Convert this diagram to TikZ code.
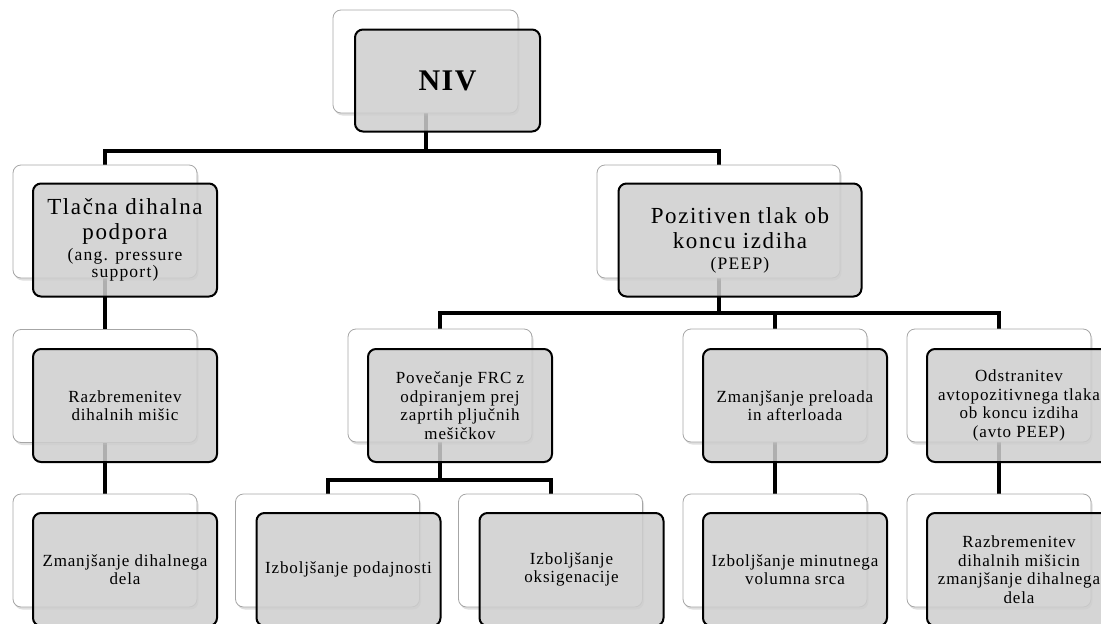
\documentclass[tikz,border=0pt]{standalone}
\usepackage{fontspec}
\setmainfont{Liberation Serif}[LetterSpace=5]
\usepackage{xcolor}
\usepackage{tikz}
\usetikzlibrary{shadows}
\pgfdeclarelayer{background}
\pgfsetlayers{background,main}
\definecolor{boxgray}{RGB}{206,206,206}
\newcommand{\bigtxt}{\fontsize{23}{25}\selectfont\addfontfeature{LetterSpace=7}}
\newcommand{\smalltxt}{\fontsize{17.5}{17}\selectfont}
\newcommand{\midtxt}{\fontsize{17}{18.5}\selectfont}

\begin{document}
\begin{tikzpicture}[x=1pt, y=-1pt,
				back/.style={rectangle, rounded corners=8pt, draw=black!35, line width=0.8pt,
					fill=white, minimum width=184pt, minimum height=113pt,
					drop shadow={opacity=0.25, shadow xshift=1.5pt, shadow yshift=-2.5pt}},
				front/.style={rectangle, rounded corners=8pt, draw=black, line width=2pt,
					fill=boxgray, fill opacity=0.85, text opacity=1, draw opacity=1,
					minimum width=184pt, minimum height=113pt, align=center, inner sep=2pt,
					font=\midtxt},
				link/.style={line width=4pt, black}]
				\clip (0,0) rectangle (1101,624);
				% top level
				\node at (425.5,61.5) (nivB) [back, minimum width=185pt, minimum height=103pt] {};
				\node at (447.5,80.5) (niv) [front, minimum width=185pt, minimum height=102pt,
					font=\fontsize{30}{34}\selectfont\bfseries] {NIV};
				% second level
				\node at (105,221.5) (tlakB) [back] {};
				\node at (125,240) (tlak) [front, font=\bigtxt] {Tlačna dihalna\\ podpora\\[-4pt] \smalltxt (ang. pressure\\[-8pt] \smalltxt support)};
				\node at (718.5,221.5) (peepB) [back, minimum width=243pt] {};
				\node at (740,240) (peep) [front, minimum width=243pt, font=\bigtxt] {Pozitiven tlak ob\\ koncu izdiha\\[-4pt] \smalltxt (PEEP)};
				% third level
				\node at (105,386) (razB) [back] {};
				\node at (125,405.5) (raz) [front] {Razbremenitev\\ dihalnih mišic};
				\node at (440,385.5) (frcB) [back] {};
				\node at (460,405.5) (frc) [front] {Povečanje FRC z\\ odpiranjem prej\\ zaprtih pljučnih\\ mešičkov};
				\node at (775,385.5) (preB) [back] {};
				\node at (795,405.5) (pre) [front] {Zmanjšanje preloada\\ in afterloada};
				\node at (999,385.5) (odsB) [back] {};
				\node at (1019,405.5) (ods) [front] {Odstranitev\\ avtopozitivnega tlaka\\ ob koncu izdiha\\ (avto PEEP)};
				% bottom level
				\node at (105,550.5) (dihB) [back] {};
				\node at (125,569.5) (dih) [front] {Zmanjšanje dihalnega\\ dela};
				\node at (327.5,550.5) (podB) [back] {};
				\node at (348.5,569.5) (pod) [front] {Izboljšanje podajnosti};
				\node at (550.5,550.5) (oksB) [back] {};
				\node at (571.5,569.5) (oks) [front] {Izboljšanje\\ oksigenacije};
				\node at (775,550.5) (minB) [back] {};
				\node at (795,569.5) (min) [front] {Izboljšanje minutnega\\ volumna srca};
				\node at (999,550.5) (raz2B) [back] {};
				\node at (1019,569.5) (raz2) [front] {Razbremenitev\\ dihalnih mišicin\\ zmanjšanje dihalnega\\ dela};
				% connectors
				\coordinate (j1) at (425.5,151);
				\coordinate (j2) at (718.5,313);
				\coordinate (j3) at (440,480);
				\begin{pgfonlayer}{background}
				\draw [link] (nivB.center) -- (j1);
				\draw [link] (tlakB.center) |- (j1) -| (peepB.center);
				\draw [link] (peepB.center) -- (j2);
				\draw [link] (frcB.center) |- (j2) -| (odsB.center);
				\draw [link] (preB.center) -- (preB.center |- j2);
				\draw [link] (frcB.center) -- (j3);
				\draw [link] (podB.center) |- (j3) -| (oksB.center);
				\draw [link] (tlakB.center) -- (razB.center);
				\draw [link] (razB.center) -- (dihB.center);
				\draw [link] (preB.center) -- (minB.center);
				\draw [link] (odsB.center) -- (raz2B.center);
				\end{pgfonlayer}
			\end{tikzpicture}
\end{document}
